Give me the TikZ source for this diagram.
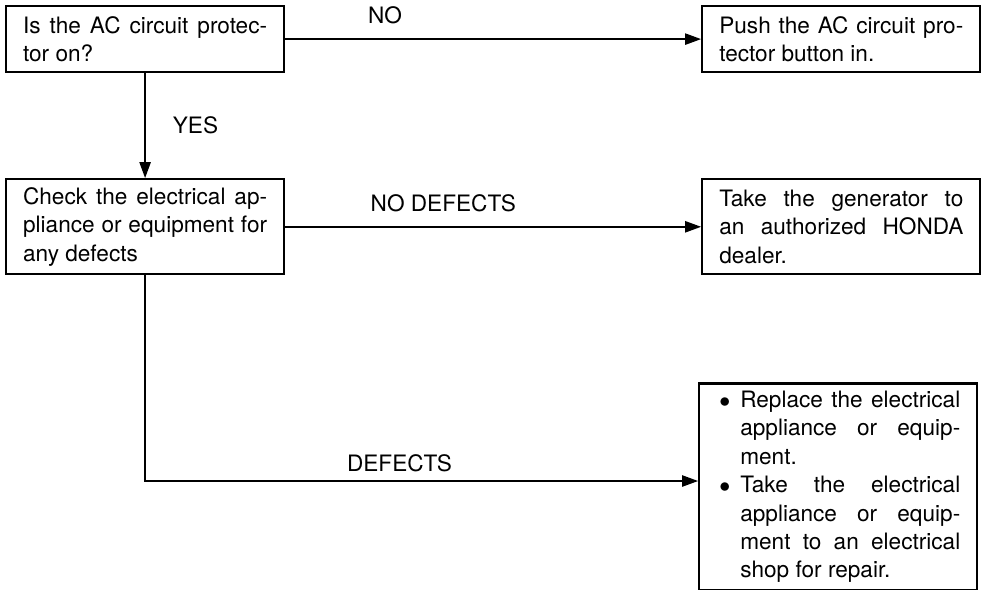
\documentclass[tikz,border=0pt]{standalone}
\usepackage{fontspec}
\setmainfont{TeX Gyre Heros}
\usepackage{tikz}
\usetikzlibrary{arrows.meta,positioning}
\tolerance=10000 \hbadness=10000 \hyphenpenalty=10000
\newcommand{\madde}{\noindent\hangindent=12pt\hangafter=1\hspace*{1.5pt}\makebox[10.5pt][l]{$\bullet$}}

\begin{document}
\begin{tikzpicture}[
  adim/.style={draw, line width=1.1pt, align=justify, text width=122pt,
               inner xsep=8.5pt, inner ysep=3pt, font=\fontsize{11.3}{14.2}\selectfont},
  yol/.style={-{Triangle[length=8pt,width=5.5pt]}, line width=1.1pt},
  etiket/.style={font=\fontsize{11.3}{14.2}\selectfont}
]
\useasboundingbox (0,0) rectangle (491.5pt,-294.5pt);

\node[adim, minimum height=33pt, anchor=north west] (soru) at (2.5pt,-2.5pt)
  {Is the AC circuit protec-\linebreak tor on?};
\node[adim, minimum height=33pt, right=208pt of soru] (dugme)
  {Push the AC circuit pro-\linebreak tector button in.};
\node[adim, minimum height=47.5pt, below=52.5pt of soru] (kontrol)
  {Check the electrical ap-\linebreak pliance or equipment for\linebreak any defects};
\node[adim, minimum height=47.5pt, right=208pt of kontrol] (bayi)
  {Take the generator to\linebreak an authorized HONDA\linebreak dealer.};
\node[adim, minimum height=103.5pt, inner ysep=1.2pt, below=53.5pt of bayi.south west,
      anchor=north west, xshift=-1.5pt]
  (onar) {\madde Replace the electrical\linebreak appliance or equip-\linebreak ment.\par
          \madde Take the electrical\linebreak appliance or equip-\linebreak
          ment to an electrical\linebreak shop for repair.\par};

\draw[yol] (soru) -- node[etiket, pos=0.24, above=3.5pt] {NO} (dugme);
\draw[yol] (soru) -- node[etiket, right=10pt] {YES} (kontrol);
\draw[yol] (kontrol) -- node[etiket, pos=0.38, above=3.5pt] {NO DEFECTS} (bayi);
\draw[yol] (kontrol.south) |- node[etiket, pos=0.73, above=0.5pt] {DEFECTS} ([yshift=3pt]onar.west);
\end{tikzpicture}
\end{document}
